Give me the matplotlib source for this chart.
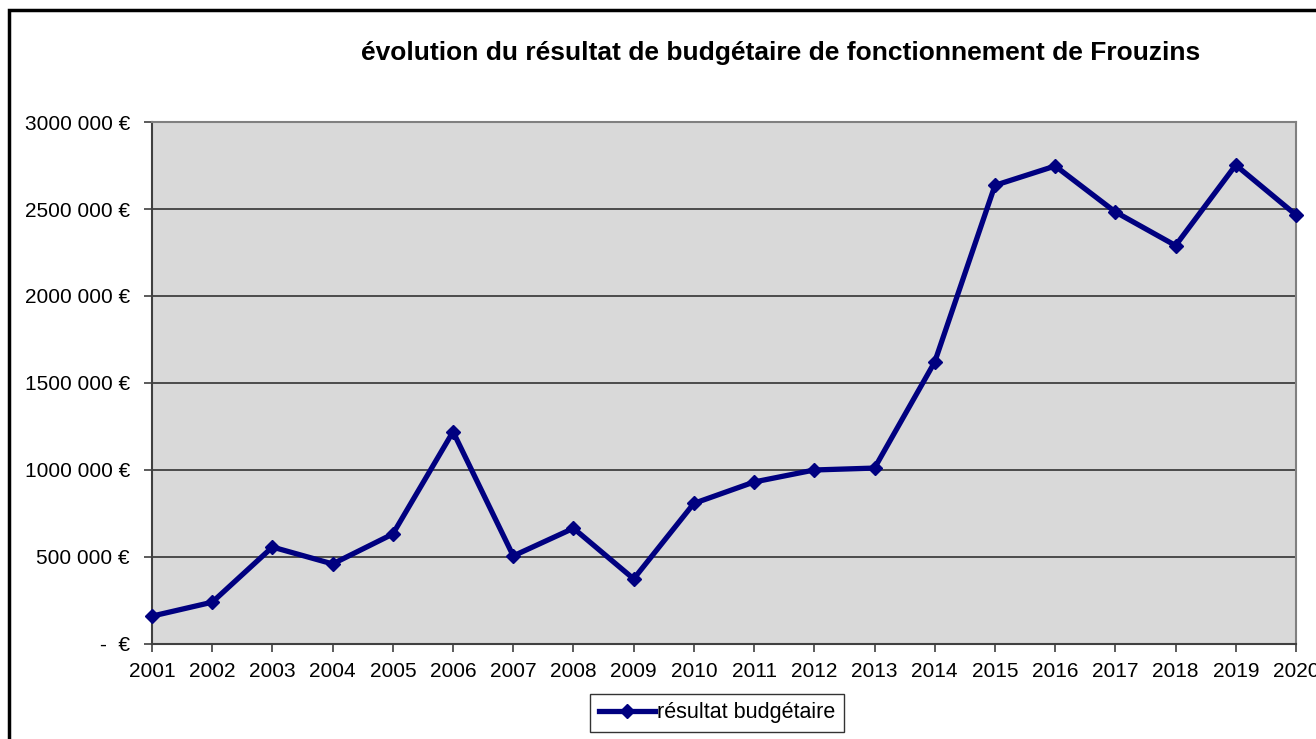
import matplotlib.pyplot as plt
from matplotlib.patches import Rectangle
from matplotlib.ticker import FuncFormatter

plt.rcParams['font.family'] = ['Liberation Sans', 'DejaVu Sans']

# années et résultat budgétaire (en euros)
annees = list(range(2001, 2021))
resultat = [160000, 240000, 557000, 460000, 632000, 1220000, 506000, 665000,
            374000, 808000, 931000, 1000000, 1011000, 1621000, 2636000,
            2747000, 2483000, 2290000, 2753000, 2466000]

titre = "évolution du résultat de budgétaire de fonctionnement de Frouzins"
serie = "résultat budgétaire"


def euro(v, pos):
    if v == 0:
        return "-  €"
    m = int(v) // 1000000
    k = (int(v) // 1000) % 1000
    if m:
        return "%d%03d 000 €" % (m, k)
    return "%d 000 €" % k


fig = plt.figure(figsize=(13.16, 7.39), dpi=100)
ax = fig.add_axes([0.1155, 0.1286, 0.8693, 0.7063])

# cadre extérieur du graphique (coupé à droite et en bas)
fig.patches.append(Rectangle((9 / 1316, -0.05), 1.2, 1 - 10 / 739 + 0.05,
                             transform=fig.transFigure, fill=False,
                             edgecolor='black', linewidth=2.5))

ax.set_facecolor('#d9d9d9')
ax.plot(annees, resultat, color='#000080', linewidth=3.8, marker='D',
        markersize=7, label=serie, clip_on=False, zorder=3)

ax.set_xlim(2001, 2020)
ax.set_ylim(0, 3000000)
ax.set_xticks(annees)
ax.set_yticks(range(0, 3000001, 500000))
ax.yaxis.set_major_formatter(FuncFormatter(euro))
ax.grid(axis='y', color='#404040', linewidth=1.3)
ax.set_axisbelow(True)

ax.tick_params(axis='both', labelsize=15, length=6, width=1.2, color='#404040')
ax.tick_params(axis='y', pad=10)
ax.tick_params(axis='x', pad=7)
for s in ['left', 'bottom']:
    ax.spines[s].set_color('#404040')
    ax.spines[s].set_linewidth(1.5)
for s in ['top', 'right']:
    ax.spines[s].set_color('#808080')
    ax.spines[s].set_linewidth(1.5)

fig.text(0.593, 0.928, titre, ha='center', va='center', fontsize=19,
         fontweight='bold')

leg = ax.legend(loc='center', bbox_to_anchor=(0.5 + (717 - 724) / 1144, -0.132),
                fontsize=15.5, frameon=True, fancybox=False, handlelength=2.6,
                handletextpad=0.1, borderpad=0.4, borderaxespad=0)
leg.get_frame().set_edgecolor('black')
leg.get_frame().set_linewidth(1.0)

fig.savefig('out.png', dpi=100)
